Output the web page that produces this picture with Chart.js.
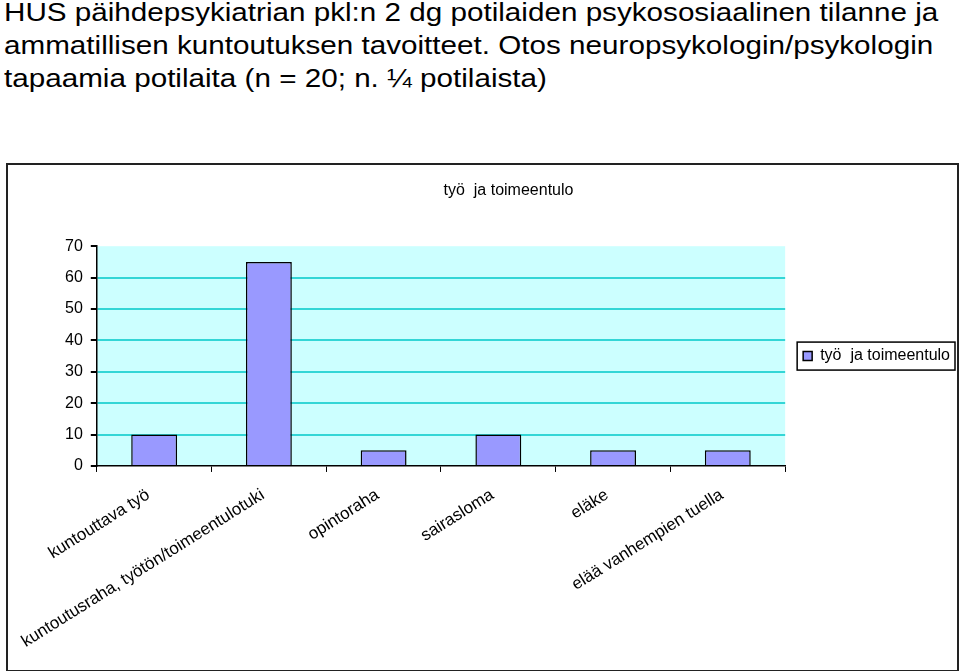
<!DOCTYPE html>
<html>
<head>
<meta charset="utf-8">
<script src="https://cdn.jsdelivr.net/npm/chart.js@4.4.1/dist/chart.umd.min.js"></script>
<style>
    body { margin: 0; background: #fff; font-family: "Liberation Sans", Arial, sans-serif; }
    #title {
        position: absolute; left: 4px; top: -4px;
        font-size: 26px; line-height: 33px; color: #000; white-space: nowrap;
        transform: scaleX(1.14); transform-origin: left top;
    }
    #box {
        position: absolute; left: 6px; top: 163px;
        width: 949px; height: 505px; border: 2px solid #222;
    }
    canvas { display: block; }
</style>
</head>
<body>
<div id="title">
    HUS päihdepsykiatrian pkl:n 2 dg potilaiden psykososiaalinen tilanne ja<br>
    ammatillisen kuntoutuksen tavoitteet. Otos neuropsykologin/psykologin<br>
    tapaamia potilaita (n = 20; n. ¼ potilaista)
</div>
<div id="box"><canvas id="chart" width="949" height="505"></canvas></div>
<script>
const categories = [
    'kuntouttava työ',
    'kuntoutusraha, työtön/toimeentulotuki',
    'opintoraha',
    'sairasloma',
    'eläke',
    'elää vanhempien tuella',
];
const values     = [10, 65, 5, 10, 5, 5];
const seriesName = 'työ  ja toimeentulo';
const chartTitle = 'työ  ja toimeentulo';
const yMin = 0, yMax = 70, yStep = 10;

const FAMILY = '"Liberation Sans", Arial, sans-serif';
const FONT   = { family: FAMILY, size: 16 };
const COLORS = {
    bar:    '#9999FF',
    plotBg: '#CCFFFF',
    grid:   '#33D6D6',
    ink:    '#000000',
};

// light cyan plot background
const plotBackground = {
    id: 'plotBackground',
    beforeDraw(chart) {
        const { ctx, chartArea: a } = chart;
        ctx.save();
        ctx.fillStyle = COLORS.plotBg;
        ctx.fillRect(a.left, a.top, a.right - a.left, a.bottom - a.top);
        ctx.restore();
    },
};

// black frame round the legend item, as in the Excel original
const legendFrame = {
    id: 'legendFrame',
    afterDraw(chart) {
        const box = chart.legend?.legendHitBoxes?.[0];
        if (!box) return;
        const { ctx } = chart;
        ctx.save();
        ctx.strokeStyle = COLORS.ink;
        ctx.lineWidth = 1.5;
        ctx.strokeRect(box.left - 6, box.top - 6, box.width + 11, box.height + 12);
        ctx.restore();
    },
};

new Chart(document.getElementById('chart').getContext('2d'), {
    type: 'bar',
    data: {
        labels: categories,
        datasets: [{
            label:              seriesName,
            data:               values,
            backgroundColor:    COLORS.bar,
            borderColor:        COLORS.ink,
            borderWidth:        1.5,
            barPercentage:      0.4,
            categoryPercentage: 1,
        }],
    },
    options: {
        responsive: false,
        animation: false,
        layout: { padding: { left: 49, right: -3, top: 0, bottom: 5 } },
        scales: {
            x: {
                grid: {
                    offset: true,
                    drawOnChartArea: false,
                    color: COLORS.ink,
                    tickColor: COLORS.ink,
                    tickLength: 6,
                },
                border: { color: COLORS.ink, width: 1.5 },
                ticks: {
                    autoSkip: false,
                    minRotation: 32,
                    maxRotation: 32,
                    color: COLORS.ink,
                    font: { family: FAMILY, size: 17 },
                    padding: 13,
                    labelOffset: -6,
                },
            },
            y: {
                min: yMin,
                max: yMax,
                grid: {
                    color: c => (c.tick.value === yMin || c.tick.value === yMax) ? 'transparent' : COLORS.grid,
                    lineWidth: 2,
                    tickColor: COLORS.ink,
                    tickLength: 6,
                },
                border: { color: COLORS.ink, width: 1.5 },
                ticks: { stepSize: yStep, color: COLORS.ink, font: FONT, padding: 8 },
            },
        },
        plugins: {
            title: {
                display: true,
                text: chartTitle,
                color: COLORS.ink,
                font: { ...FONT, weight: 'normal' },
                padding: { top: 16, bottom: 46 },
            },
            legend: {
                position: 'right',
                fullSize: false,
                labels: {
                    boxWidth: 9,
                    boxHeight: 9,
                    color: COLORS.ink,
                    font: FONT,
                    padding: 18,
                },
            },
            tooltip: { enabled: false },
        },
    },
    plugins: [plotBackground, legendFrame],
});
</script>
</body>
</html>
